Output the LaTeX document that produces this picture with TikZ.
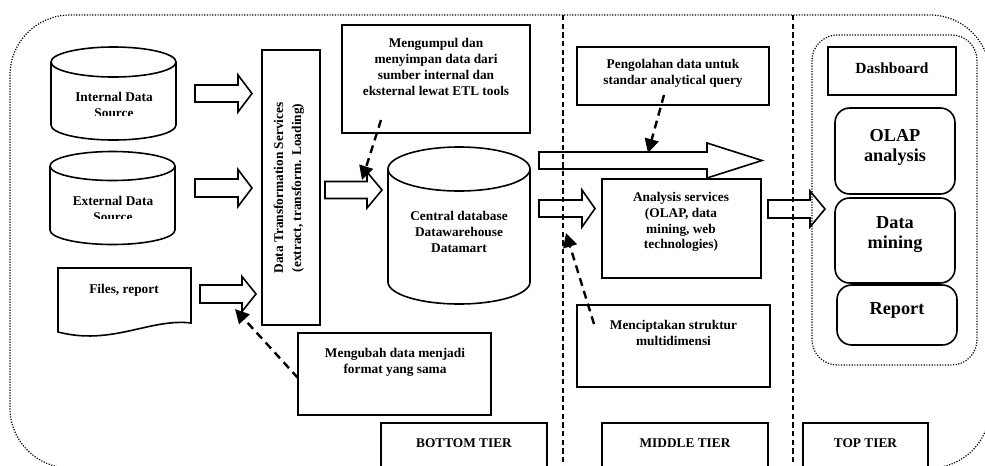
\documentclass[tikz,border=0pt]{standalone}
\usepackage{fontspec}
\setmainfont{Liberation Serif}
\usetikzlibrary{arrows.meta,calc,fit}
\tikzset{
  ln/.style={line width=1.2pt, line join=miter},
  box/.style={ln, draw, inner sep=0pt, fit={#1}},
  rbox/.style={ln, draw, inner sep=0pt, rounded corners=11pt, fit={#1}},
  ghost/.style={inner sep=0pt, fit={#1}},
  txt/.style={font=\fontsize{10}{11.8}\selectfont\bfseries, align=center, inner sep=0pt},
  bigtxt/.style={font=\fontsize{13.7}{15}\selectfont\bfseries, align=center, inner sep=0pt},
  dashedarrow/.style={line width=1.8pt, dash pattern=on 6pt off 4pt, -{Triangle[length=10.5pt,width=10.5pt]}},
  tierline/.style={line width=1.1pt, dash pattern=on 4pt off 2.5pt},
  dotline/.style={line width=0.9pt, dash pattern=on 0.9pt off 1.1pt}
}
% block arrow: #1 x-start, #2 x-tip, #3 y-centre, #4 shaft half, #5 head half, #6 head base x, #7 name
\newcommand\BlkArrow[7]{%
  \draw[ln] (#1,{#3-#4}) -- (#6,{#3-#4}) -- (#6,{#3-#5}) -- (#2,#3) -- (#6,{#3+#5}) -- (#6,{#3+#4}) -- (#1,{#3+#4}) -- cycle;
  \coordinate (#7) at (#2,#3);}
% cylinder: #1 x-left, #2 x-right, #3 y top ellipse centre, #4 y bottom ellipse centre, #5 y radius
\newcommand\CylShape[5]{%
  \draw[ln] ({(#1+#2)/2},#3) ellipse [x radius={(#2-#1)/2*0.75pt}, y radius={#5*0.75pt}];
  \draw[ln] (#1,#3) -- (#1,#4) arc[start angle=180, end angle=360, x radius={(#2-#1)/2*0.75pt}, y radius={#5*0.75pt}] -- (#2,#3);}
\begin{document}
\begin{tikzpicture}[x=0.75pt,y=-0.75pt]
\useasboundingbox (0,0) rectangle (985,465);

% outer dotted frame and tier separators
\draw[dotline, rounded corners=45pt] (10,15) rectangle (990,468);
\draw[tierline] (563,15) -- (563,470);
\draw[tierline] (793,15) -- (793,470);

% sources
\CylShape{51}{176}{62}{125}{15}
\node[ghost={(51,47) (176,140)}] (ids) {};
\begin{scope}
  \clip (40,80) rectangle (190,115);
  \node[txt] (tin) at (114,104.7) {Internal Data\\Source};
\end{scope}
\CylShape{50}{175}{166}{230}{14.5}
\node[ghost={(50,152) (175,245)}] (eds) {};
\begin{scope}
  \clip (40,185) rectangle (190,218.5);
  \node[txt] (tex) at (113,209) {External Data\\Source};
\end{scope}
\draw[ln] (58,268) -- (191,268) -- (191,323) .. controls (150,318) and (112,346) .. (58,332) -- cycle;
\node[ghost={(58,268) (191,337)}] (files) {};
\node[txt] (tfiles) at (124,290) {Files, report};

% transformation services
\node[box={(262,50) (320,325)}] (dts) {};
\node[txt, rotate=90, font=\fontsize{10}{13.5}\selectfont\bfseries] (tdts) at (289,188) {Data Transformation Services\\(extract, transform. Loading)};

% central database
\CylShape{388}{530}{169}{282}{22}
\node[ghost={(388,147) (530,304)}] (cdb) {};
\node[txt] (tcdb) at (459,232) {Central database\\Datawarehouse\\Datamart};

% note boxes
\node[box={(342,25) (530,133)}] (mk) {};
\node[txt] (tmk) at (436,67) {Mengumpul dan\\menyimpan data dari\\sumber internal dan\\eksternal lewat ETL\ tools};
\node[box={(577,47) (769,105)}] (pg) {};
\node[txt] (tpg) at (673,73.5) {Pengolahan data untuk\\standar analytical query};
\node[box={(602,179) (761,278)}] (as) {};
\node[txt] (tas) at (681,222) {Analysis services\\(OLAP, data\\mining, web\\technologies)};
\node[box={(577,305) (770,387)}] (mc) {};
\node[txt] (tmc) at (673.5,333) {Menciptakan struktur\\multidimensi};
\node[box={(298,333) (491,415)}] (mu) {};
\node[txt] (tmu) at (395,362) {Mengubah data menjadi\\format yang sama};

% tier labels
\node[box={(381,423) (547,480)}] (bt) {};
\node[txt] (tbt) at (464,443) {BOTTOM TIER};
\node[box={(602,423) (768,480)}] (mt) {};
\node[txt] (tmt) at (685,443) {MIDDLE TIER};
\node[box={(803,423) (928,480)}] (tt) {};
\node[txt] (ttt) at (865.5,443) {TOP TIER};

% top tier group
\draw[dotline, rounded corners=19pt] (812,35) rectangle (977,365);
\node[box={(828,47) (956,95)}] (db) {};
\node[txt, font=\fontsize{11.6}{13}\selectfont\bfseries] (tdb) at (892,68) {Dashboard};
\node[rbox={(835,108) (955,194)}] (olap) {};
\node[bigtxt] (tolap) at (895,147) {OLAP\\analysis};
\node[rbox={(835,198) (955,283)}] (dm) {};
\node[bigtxt] (tdm) at (895,235) {Data\\mining};
\node[rbox={(837,285) (957,345)}] (rp) {};
\node[bigtxt] (trp) at (897,310) {Report};

% block arrows
\BlkArrow{195}{252}{93.5}{8.5}{18.5}{238}{a1}
\BlkArrow{195}{252}{188}{9}{18.5}{238}{a2}
\BlkArrow{200}{256}{294}{9}{17.5}{242}{a3}
\BlkArrow{325}{382}{190}{8.5}{18}{367}{a4}
\BlkArrow{539}{762}{160.5}{8.5}{17.5}{707}{a5}
\BlkArrow{539}{595}{208.5}{8.5}{18.5}{582}{a6}
\BlkArrow{768}{825}{209}{9}{18}{810}{a7}

% dashed pointer arrows
\coordinate (s1) at (381,120); \coordinate (e1) at (362,180);
\coordinate (s2) at (664,95);  \coordinate (e2) at (648,153);
\coordinate (s3) at (594,324); \coordinate (e3) at (566,233);
\coordinate (s4) at (298,378); \coordinate (e4) at (235,309);
\draw[dashedarrow] (s1) -- (e1);
\draw[dashedarrow] (s2) -- (e2);
\draw[dashedarrow] (s3) -- (e3);
\draw[dashedarrow] (s4) -- (e4);
\end{tikzpicture}
\end{document}
